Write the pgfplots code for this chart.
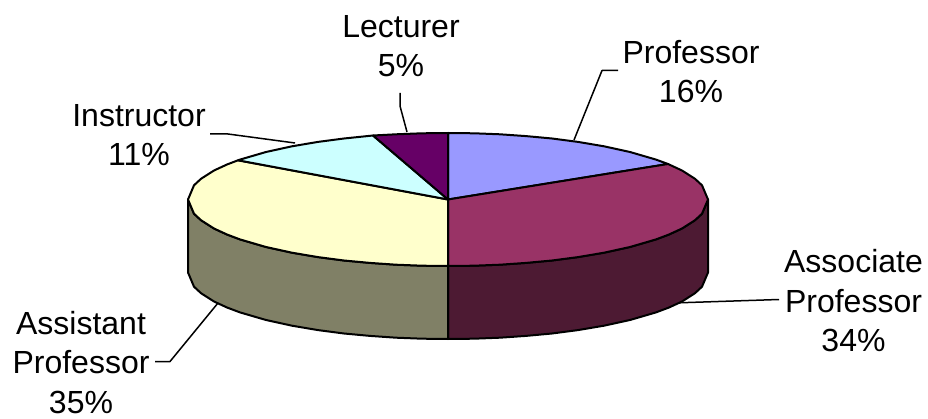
\documentclass[border=0pt]{standalone}
\usepackage{fontspec}
\setmainfont{Liberation Sans}
\usepackage{pgfplots}
\pgfplotsset{compat=1.18}
\definecolor{prof}{HTML}{9999FF}
\definecolor{assoc}{HTML}{993366}
\definecolor{assocside}{HTML}{4D1A33}
\definecolor{asst}{HTML}{FFFFCC}
\definecolor{asstside}{HTML}{808066}
\definecolor{instr}{HTML}{CCFFFF}
\definecolor{lect}{HTML}{660066}
\tikzset{
  slice/.style={draw=black, line width=2pt},
  leader/.style={draw=black, line width=1.5pt},
  lab/.style={font=\fontsize{32}{39.5}\selectfont, align=center, anchor=center, inner sep=0pt},
}
\begin{document}
\begin{tikzpicture}
\path (0,0) rectangle (928pt,419pt);
\begin{axis}[
  at={(0,0)}, anchor=south west,
  scale only axis, width=928pt, height=419pt,
  xmin=0, xmax=928, ymin=0, ymax=419, y dir=reverse,
  hide axis, clip=false,
  every axis plot/.append style={no markers, line join=round},
]
% leader lines
\addplot[leader] coordinates {(574,140)(602,70.5)(618,70.5)};
\addplot[leader] coordinates {(407,132)(400,106)(400,93)};
\addplot[leader] coordinates {(295,143)(228,134)(210,134)};
\addplot[leader] coordinates {(218,303)(170,361.5)(155,361.5)};
\addplot[leader] coordinates {(673,303)(779,299.5)};
% side walls
\addplot[slice, fill=assocside] coordinates {(448,266)(474,265.7)(500,264.7)(526,262.9)(552,260.5)(578,257.1)(604,252.7)(630,247)(656,239.4)(669,234.5)(682,228.5)(695,220.2)(702,213.7)(708,199.5)(708,272.5)(702,286.7)(695,293.2)(682,301.5)(669,307.5)(656,312.4)(630,320)(604,325.7)(578,330.1)(552,333.5)(526,335.9)(500,337.7)(474,338.7)(448,339)} --cycle;
\addplot[slice, fill=asstside] coordinates {(448,266)(422,265.7)(396,264.7)(370,262.9)(344,260.5)(318,257.1)(292,252.7)(266,247)(240,239.4)(227,234.5)(214,228.5)(201,220.2)(194,213.7)(188,199.5)(188,272.5)(194,286.7)(201,293.2)(214,301.5)(227,307.5)(240,312.4)(266,320)(292,325.7)(318,330.1)(344,333.5)(370,335.9)(396,337.7)(422,338.7)(448,339)} --cycle;
% top slices
\addplot[slice, fill=prof] coordinates {(448,199.5)(448,133)(474,133.3)(500,134.3)(526,136.1)(552,138.5)(578,141.9)(604,146.3)(630,152)(656,159.6)(668,164)} --cycle;
\addplot[slice, fill=assoc] coordinates {(448,199.5)(668,164)(682,170.5)(695,178.8)(702,185.3)(708,199.5)(702,213.7)(695,220.2)(682,228.5)(669,234.5)(656,239.4)(630,247)(604,252.7)(578,257.1)(552,260.5)(526,262.9)(500,264.7)(474,265.7)(448,266)} --cycle;
\addplot[slice, fill=asst] coordinates {(448,199.5)(448,266)(422,265.7)(396,264.7)(370,262.9)(344,260.5)(318,257.1)(292,252.7)(266,247)(240,239.4)(227,234.5)(214,228.5)(201,220.2)(194,213.7)(188,199.5)(194,185.3)(201,178.8)(214,170.5)(227,164.5)(238,160.3)} --cycle;
\addplot[slice, fill=instr] coordinates {(448,199.5)(238,160.3)(240,159.6)(266,152)(292,146.3)(318,141.9)(344,138.5)(373,135.5)} --cycle;
\addplot[slice, fill=lect] coordinates {(448,199.5)(373,135.5)(396,134.3)(422,133.3)(448,133)} --cycle;
% labels
\node[lab] at (axis cs:691,71.5) {Professor\\16\%};
\node[lab] at (axis cs:401,46) {Lecturer\\5\%};
\node[lab] at (axis cs:139,135) {Instructor\\11\%};
\node[lab] at (axis cs:853.5,301) {Associate\\Professor\\34\%};
\node[lab] at (axis cs:81,362.5) {Assistant\\Professor\\35\%};
\end{axis}
\end{tikzpicture}
\end{document}
